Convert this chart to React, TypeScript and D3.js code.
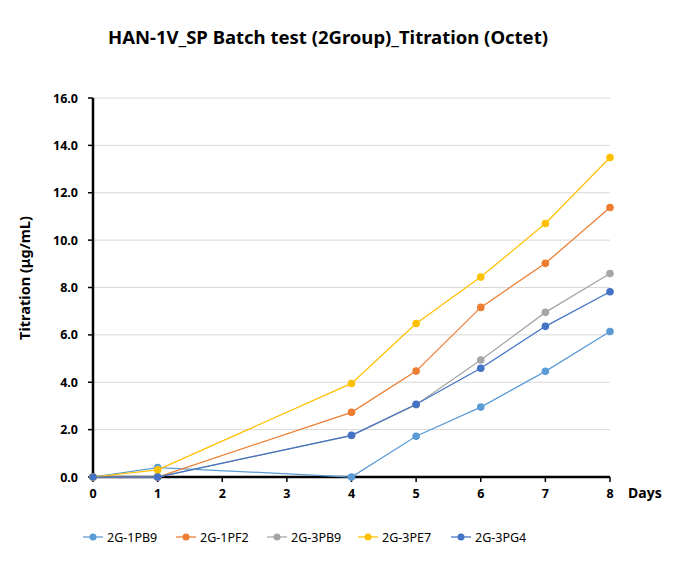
import React from "react";
import * as d3 from "d3";

const days = [0, 1, 4, 5, 6, 7, 8];
const xTicks = [0, 1, 2, 3, 4, 5, 6, 7, 8];
const yTicks = [0, 2, 4, 6, 8, 10, 12, 14, 16];
const seriesNames = ["2G-1PB9", "2G-1PF2", "2G-3PB9", "2G-3PE7", "2G-3PG4"];
const seriesColors = ["#5B9BD5", "#ED7D31", "#A5A5A5", "#FFC000", "#4472C4"];
const s1PB9 = [0, 0.4, 0.0, 1.72, 2.95, 4.46, 6.14];
const s1PF2 = [0, 0, 2.73, 4.47, 7.16, 9.02, 11.38];
const s3PB9 = [0, 0, 1.75, 3.05, 4.94, 6.95, 8.59];
const s3PE7 = [0, 0.3, 3.95, 6.48, 8.44, 10.7, 13.49];
const s3PG4 = [0, 0, 1.76, 3.07, 4.59, 6.36, 7.82];
const seriesValues = [s1PB9, s1PF2, s3PB9, s3PE7, s3PG4];

const W = 679, H = 570;
const left = 93, right = 610, top = 98, bottom = 477;
const FONT = "'Noto Sans', 'Open Sans', sans-serif";

export default function App() {
  const x = d3.scaleLinear().domain([0, 8]).range([left, right]);
  const y = d3.scaleLinear().domain([0, 16]).range([bottom, top]);
  const line = d3.line<number>().x((_, i) => x(days[i])).y((v) => y(v));
  const legendX = [93, 186, 277, 368, 461];
  return (
    <div style={{ position: "absolute", left: 0, top: 0 }}>
      <svg width={W} height={H} style={{ display: "block", background: "#fff" }}>
        <text x={328} y={44} textAnchor="middle" fontFamily={FONT} fontWeight="bold" fontSize={18.5} fill="#000">
          HAN-1V_SP Batch test (2Group)_Titration (Octet)
        </text>
        {yTicks.slice(1).map((t) => (
          <line key={"g" + t} x1={left} x2={right} y1={y(t)} y2={y(t)} stroke="#D9D9D9" strokeWidth={1} />
        ))}
        {yTicks.map((t) => (
          <g key={"yt" + t}>
            <line x1={left - 5} x2={left} y1={y(t)} y2={y(t)} stroke="#000" strokeWidth={1.5} />
            <text x={78} y={y(t) + 4.5} textAnchor="end" fontFamily={FONT} fontWeight="bold" fontSize={12.5} fill="#000">
              {t.toFixed(1)}
            </text>
          </g>
        ))}
        {xTicks.map((t) => (
          <g key={"xt" + t}>
            <line x1={x(t)} x2={x(t)} y1={bottom} y2={bottom + 5} stroke="#000" strokeWidth={1.5} />
            <text x={x(t)} y={bottom + 21} textAnchor="middle" fontFamily={FONT} fontWeight="bold" fontSize={12.5} fill="#000">
              {t}
            </text>
          </g>
        ))}
        <line x1={left} x2={left} y1={top} y2={bottom + 1} stroke="#000" strokeWidth={2.5} />
        <line x1={left - 1} x2={right} y1={bottom} y2={bottom} stroke="#000" strokeWidth={2.5} />
        <text x={628} y={498} fontFamily={FONT} fontWeight="bold" fontSize={14} fill="#000">Days</text>
        <text transform={`translate(30,278) rotate(-90)`} textAnchor="middle" fontFamily={FONT} fontWeight="bold" fontSize={14.5} fill="#000">
          Titration (μg/mL)
        </text>
        {seriesValues.map((vals, si) => (
          <g key={"s" + si}>
            <path d={line(vals) || ""} fill="none" stroke={seriesColors[si]} strokeWidth={1.25} />
            {vals.map((v, i) => (
              <circle key={i} cx={x(days[i])} cy={y(v)} r={3.8} fill={seriesColors[si]} />
            ))}
          </g>
        ))}
        {seriesNames.map((n, i) => (
          <g key={"l" + n}>
            <line x1={legendX[i] - 10} x2={legendX[i] + 10} y1={537} y2={537} stroke={seriesColors[i]} strokeWidth={1.25} />
            <circle cx={legendX[i]} cy={537} r={3.5} fill={seriesColors[i]} />
            <text x={legendX[i] + 14} y={541.5} fontFamily={FONT} fontSize={12.5} fill="#000">{n}</text>
          </g>
        ))}
      </svg>
    </div>
  );
}
